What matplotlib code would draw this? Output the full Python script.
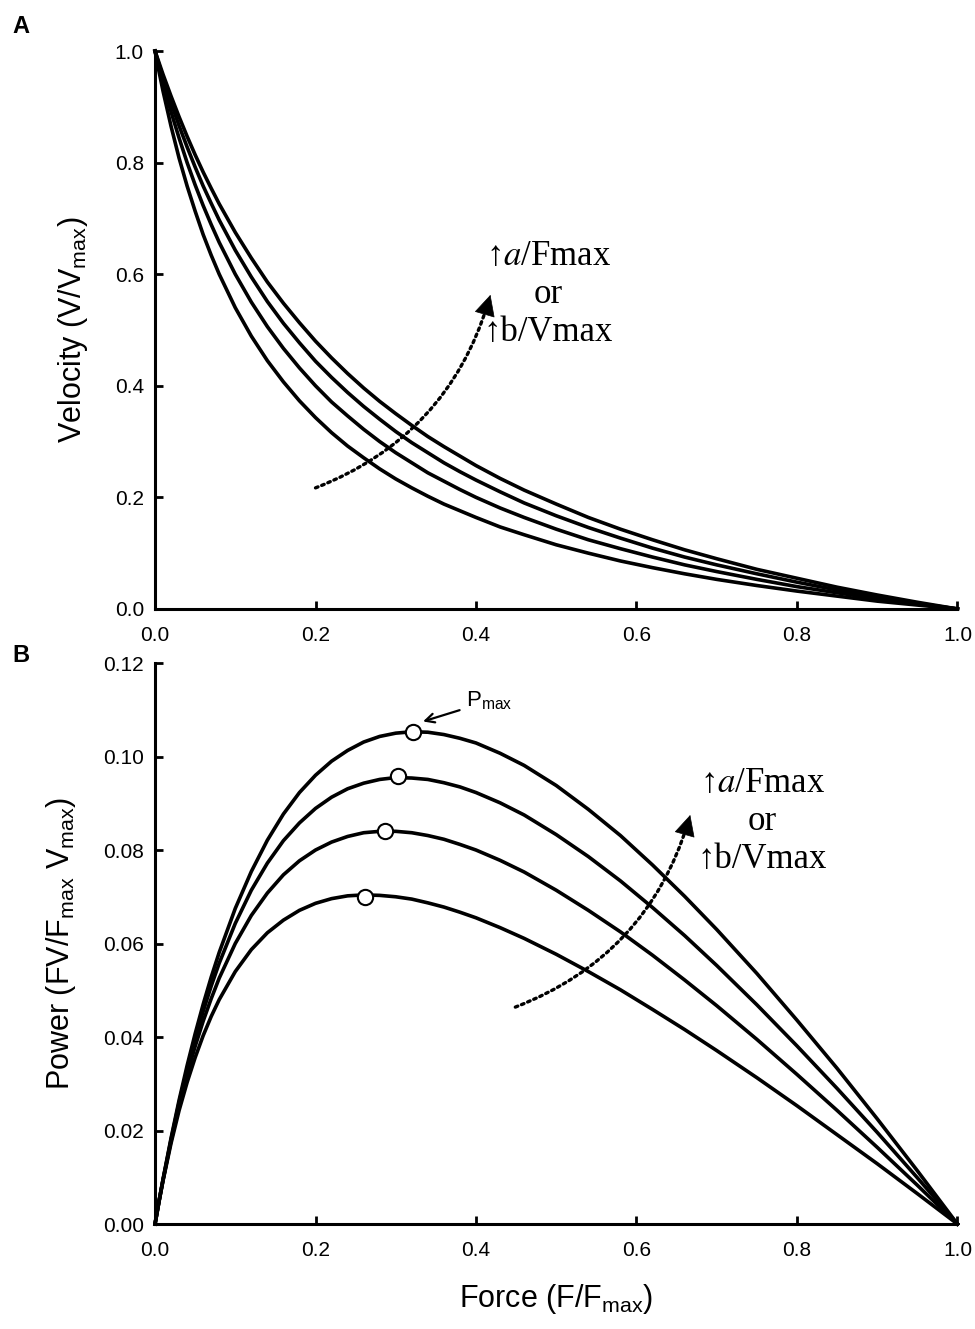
import numpy as np
import matplotlib.pyplot as plt

plt.rcParams['font.family'] = ['Liberation Sans', 'DejaVu Sans']
plt.rcParams['mathtext.fontset'] = 'custom'
plt.rcParams['mathtext.rm'] = 'Liberation Sans'

# relative force F/Fmax
force = [0.000, 0.005, 0.01, 0.02, 0.03, 0.04, 0.05, 0.06, 0.07, 0.08,
         0.10, 0.12, 0.14, 0.16, 0.18, 0.20, 0.22, 0.24, 0.26, 0.28,
         0.30, 0.32, 0.34, 0.36, 0.38, 0.40, 0.43, 0.46, 0.50, 0.54,
         0.58, 0.62, 0.66, 0.70, 0.75, 0.80, 0.85, 0.90, 0.95, 1.00]

# velocity V/Vmax, one list per curve (lowest to highest)
vel_1 = [1.000, 0.963, 0.928, 0.865, 0.808, 0.758, 0.713, 0.671, 0.634, 0.600,
         0.540, 0.489, 0.445, 0.407, 0.373, 0.343, 0.316, 0.292, 0.271, 0.251,
         0.233, 0.217, 0.202, 0.188, 0.176, 0.164, 0.147, 0.133, 0.115, 0.100,
         0.086, 0.074, 0.063, 0.053, 0.042, 0.032, 0.023, 0.014, 0.007, 0.000]
vel_2 = [1.000, 0.971, 0.943, 0.891, 0.844, 0.800, 0.760, 0.723, 0.689, 0.657,
         0.600, 0.550, 0.506, 0.467, 0.432, 0.400, 0.371, 0.346, 0.322, 0.300,
         0.280, 0.262, 0.244, 0.229, 0.214, 0.200, 0.181, 0.164, 0.143, 0.124,
         0.108, 0.093, 0.079, 0.067, 0.053, 0.040, 0.029, 0.018, 0.009, 0.000]
vel_3 = [1.000, 0.976, 0.952, 0.907, 0.866, 0.828, 0.792, 0.758, 0.727, 0.697,
         0.643, 0.595, 0.551, 0.512, 0.477, 0.444, 0.415, 0.388, 0.363, 0.340,
         0.318, 0.298, 0.280, 0.262, 0.246, 0.231, 0.210, 0.190, 0.167, 0.146,
         0.127, 0.109, 0.093, 0.079, 0.063, 0.048, 0.034, 0.022, 0.010, 0.000]
vel_4 = [1.000, 0.979, 0.958, 0.919, 0.882, 0.847, 0.814, 0.783, 0.754, 0.726,
         0.675, 0.629, 0.586, 0.548, 0.513, 0.480, 0.450, 0.422, 0.396, 0.372,
         0.350, 0.329, 0.309, 0.291, 0.274, 0.257, 0.234, 0.213, 0.188, 0.164,
         0.143, 0.124, 0.106, 0.090, 0.071, 0.055, 0.039, 0.025, 0.012, 0.000]

# power FV/(Fmax Vmax)
pow_1 = [0.0, 0.0048, 0.0093, 0.0173, 0.0243, 0.0303, 0.0356, 0.0403, 0.0444, 0.0480,
         0.0540, 0.0587, 0.0623, 0.0650, 0.0671, 0.0686, 0.0696, 0.0702, 0.0704, 0.0703,
         0.0700, 0.0695, 0.0687, 0.0678, 0.0667, 0.0655, 0.0634, 0.0611, 0.0577, 0.0540,
         0.0501, 0.0459, 0.0416, 0.0371, 0.0313, 0.0253, 0.0191, 0.0129, 0.0065, 0.0]
pow_2 = [0.0, 0.0049, 0.0094, 0.0178, 0.0253, 0.0320, 0.0380, 0.0434, 0.0482, 0.0526,
         0.0600, 0.0660, 0.0708, 0.0747, 0.0777, 0.0800, 0.0817, 0.0829, 0.0837, 0.0840,
         0.0840, 0.0837, 0.0831, 0.0823, 0.0812, 0.0800, 0.0778, 0.0753, 0.0714, 0.0671,
         0.0625, 0.0575, 0.0522, 0.0467, 0.0395, 0.0320, 0.0243, 0.0164, 0.0083, 0.0]
pow_3 = [0.0, 0.0049, 0.0095, 0.0181, 0.0260, 0.0331, 0.0396, 0.0455, 0.0509, 0.0558,
         0.0643, 0.0714, 0.0772, 0.0820, 0.0858, 0.0889, 0.0913, 0.0931, 0.0943, 0.0951,
         0.0955, 0.0954, 0.0951, 0.0944, 0.0935, 0.0923, 0.0901, 0.0875, 0.0833, 0.0786,
         0.0734, 0.0677, 0.0617, 0.0553, 0.0469, 0.0381, 0.0290, 0.0196, 0.0099, 0.0]
pow_4 = [0.0, 0.0049, 0.0096, 0.0184, 0.0265, 0.0339, 0.0407, 0.0470, 0.0528, 0.0581,
         0.0675, 0.0754, 0.0821, 0.0877, 0.0923, 0.0960, 0.0990, 0.1013, 0.1031, 0.1043,
         0.1050, 0.1053, 0.1052, 0.1047, 0.1039, 0.1029, 0.1007, 0.0981, 0.0938, 0.0887,
         0.0831, 0.0768, 0.0701, 0.0630, 0.0536, 0.0436, 0.0333, 0.0225, 0.0114, 0.0]

# Pmax points
pmax_f = [0.262, 0.286, 0.303, 0.322]
pmax_p = [0.0700, 0.0840, 0.0958, 0.1053]

note = '\u2191$\\it{a}$/Fmax\nor\n\u2191b/Vmax'

fig = plt.figure(figsize=(9.75, 13.29), dpi=100)
axA = fig.add_axes([0.159, 0.5418, 0.823, 0.4198])
axB = fig.add_axes([0.159, 0.0790, 0.823, 0.4221])

for v in [vel_1, vel_2, vel_3, vel_4]:
    axA.plot(force, v, color='black', lw=2.6, clip_on=False, solid_joinstyle='round')
for p in [pow_1, pow_2, pow_3, pow_4]:
    axB.plot(force, p, color='black', lw=2.6, clip_on=False, solid_joinstyle='round')
axB.plot(pmax_f, pmax_p, 'o', ms=11, mfc='white', mec='black', mew=1.5, zorder=5)

for ax in [axA, axB]:
    ax.spines['top'].set_visible(False)
    ax.spines['right'].set_visible(False)
    ax.spines['left'].set_linewidth(2.2)
    ax.spines['bottom'].set_linewidth(2.2)
    ax.tick_params(direction='in', length=6, width=2, labelsize=15)
    ax.tick_params(axis='x', pad=12)
    ax.tick_params(axis='y', pad=8)
    ax.set_xlim(0, 1)
    ax.set_xticks(np.arange(0, 1.01, 0.2))
    ax.set_xticklabels(['0.0', '0.2', '0.4', '0.6', '0.8', '1.0'])

axA.set_ylim(0, 1)
axA.set_yticks(np.arange(0, 1.01, 0.2))
axA.set_yticklabels(['0.0', '0.2', '0.4', '0.6', '0.8', '1.0'])
axA.set_ylabel('Velocity (V/V$_{\\mathregular{max}}$)', fontsize=22, labelpad=18)

axB.set_ylim(0, 0.12)
axB.set_yticks(np.arange(0, 0.121, 0.02))
axB.set_yticklabels(['0.00', '0.02', '0.04', '0.06', '0.08', '0.10', '0.12'])
axB.set_ylabel('Power (FV/F$_{\\mathregular{max}}$ V$_{\\mathregular{max}}$)', fontsize=22, labelpad=18)
axB.set_xlabel('Force (F/F$_{\\mathregular{max}}$)', fontsize=22, labelpad=16)

# dotted curved arrows: dotted shaft plus a solid head
dots = dict(arrowstyle='-', ls=(0, (0.8, 1.2)), lw=2.4, color='black',
            connectionstyle='arc3,rad=0.25', shrinkA=0, shrinkB=6)
head = dict(arrowstyle='-|>,head_length=0.7,head_width=0.35', lw=0.5, color='black',
            shrinkA=0, shrinkB=0, mutation_scale=20)
axA.annotate('', xy=(0.418, 0.563), xytext=(0.2, 0.217), arrowprops=dots)
axA.annotate('', xy=(0.418, 0.563), xytext=(0.4145, 0.5458), arrowprops=head)
axB.annotate('', xy=(0.667, 0.0875), xytext=(0.449, 0.0464), arrowprops=dots)
axB.annotate('', xy=(0.667, 0.0875), xytext=(0.6635, 0.0854), arrowprops=head)

axA.text(0.49, 0.563, note, fontsize=25, ha='center', va='center', multialignment='center',
         family=['Liberation Serif', 'DejaVu Serif'], math_fontfamily='stix')
axB.text(0.757, 0.086, note, fontsize=25, ha='center', va='center', multialignment='center',
         family=['Liberation Serif', 'DejaVu Serif'], math_fontfamily='stix')

axB.annotate('P$_{\\mathregular{max}}$', xy=(0.334, 0.1075), xytext=(0.388, 0.1119),
             fontsize=16, va='center',
             arrowprops=dict(arrowstyle='->', lw=1.6, color='black', shrinkA=3, shrinkB=0))

fig.text(0.013, 0.975, 'A', fontsize=17, fontweight='bold')
fig.text(0.013, 0.502, 'B', fontsize=17, fontweight='bold')

fig.savefig('out.png', dpi=100)
